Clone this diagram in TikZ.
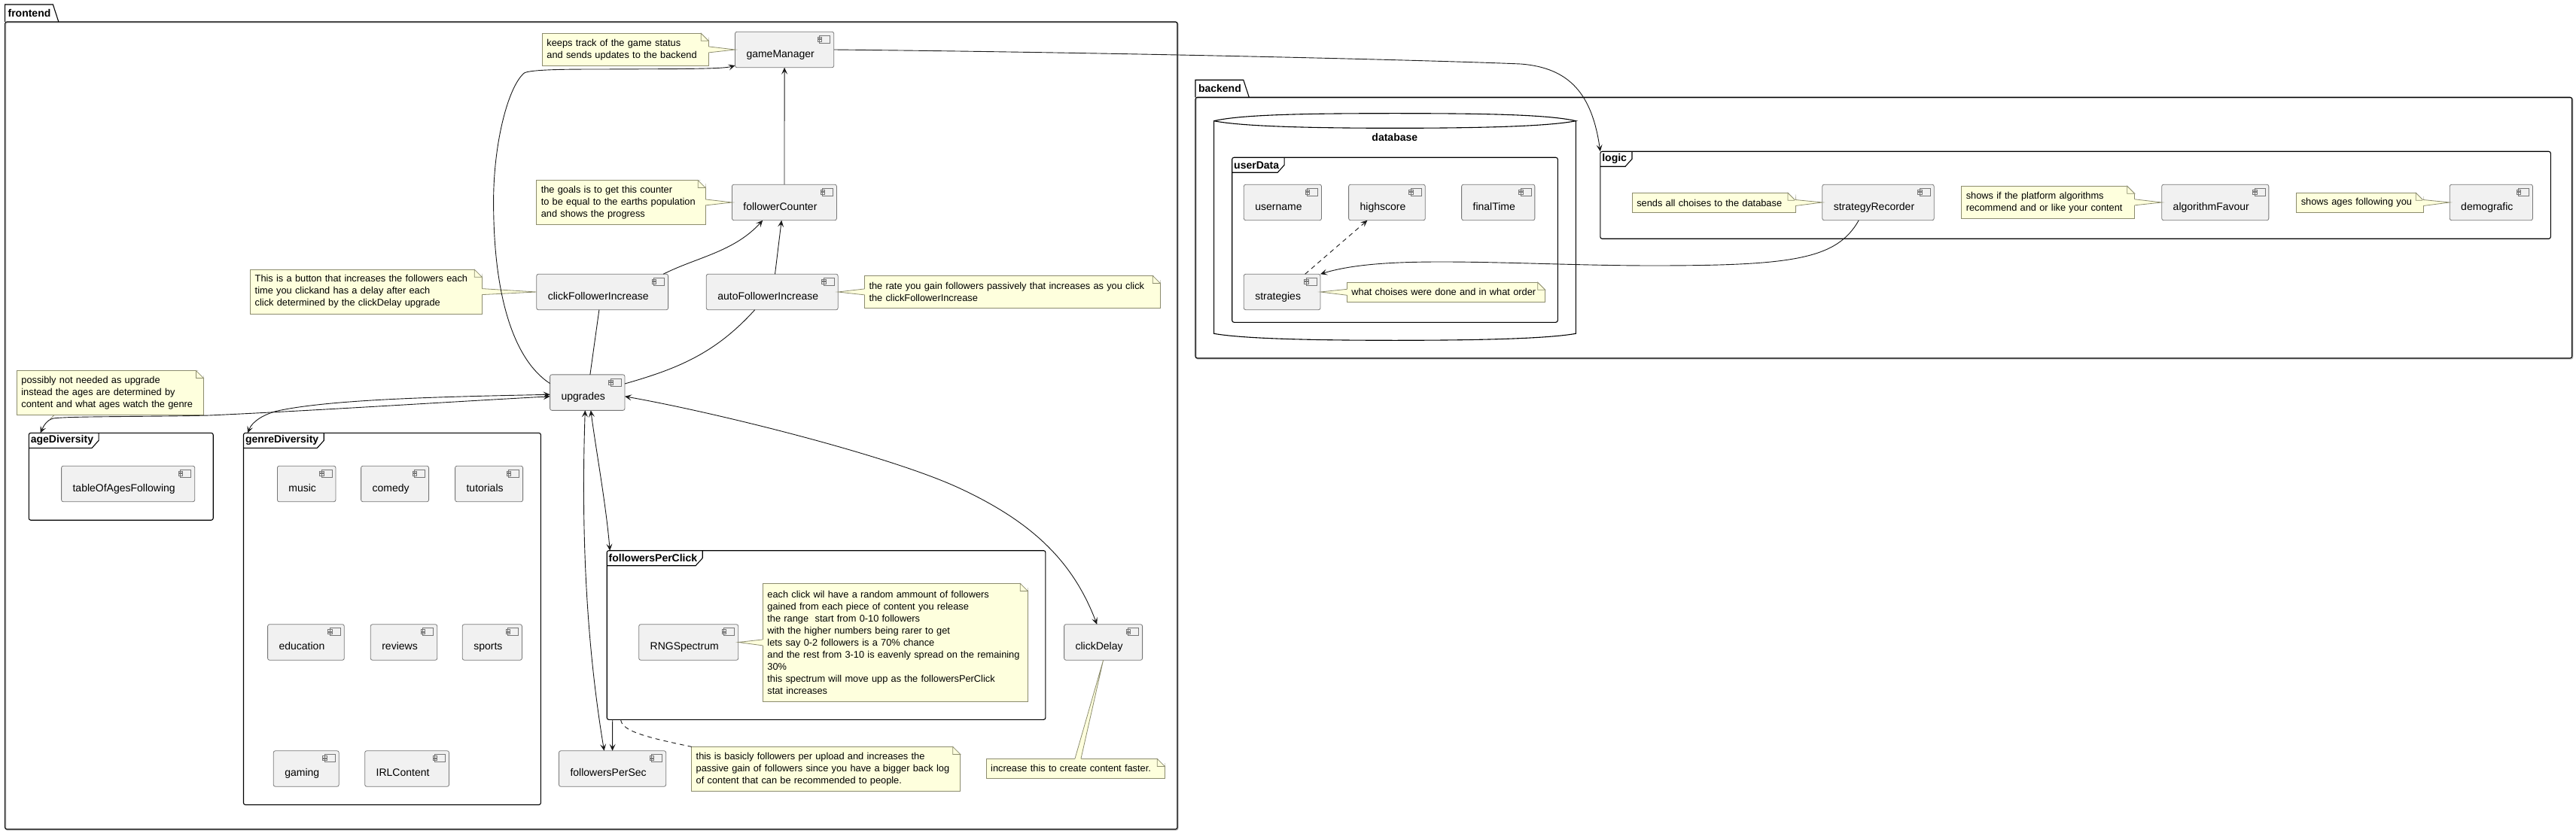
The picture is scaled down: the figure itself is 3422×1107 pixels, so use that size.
\documentclass[tikz,border=0pt]{standalone}
\usepackage{fontspec}
\setmainfont{Liberation Sans}
\usetikzlibrary{arrows.meta}
\definecolor{compfill}{HTML}{F1F1F1}
\definecolor{compline}{HTML}{777777}
\definecolor{notefill}{HTML}{FEFFDD}
\definecolor{noteline}{HTML}{8C8C6E}
\definecolor{linkline}{HTML}{181818}
\tikzset{
  >={Stealth[length=9pt,width=8pt,inset=4pt]},
  link/.style={draw=linkline,line width=.9pt},
  comp/.style={draw=compline,fill=compfill,line width=.8pt,rounded corners=2.5pt,anchor=west,
    inner sep=0pt,outer sep=0pt,text height=34pt,text depth=13.5pt,
    font=\fontsize{14}{16}\selectfont,
    execute at begin node={\hspace*{15pt}},execute at end node={\hspace*{26pt}},
    path picture={
      \draw[compline,sharp corners,line width=.7pt,fill=compfill]
        ([xshift=-19pt,yshift=-5pt]path picture bounding box.north east) rectangle ([xshift=-5pt,yshift=-15pt]path picture bounding box.north east)
        ([xshift=-21.5pt,yshift=-7pt]path picture bounding box.north east) rectangle ([xshift=-16pt,yshift=-9.5pt]path picture bounding box.north east)
        ([xshift=-21.5pt,yshift=-10.5pt]path picture bounding box.north east) rectangle ([xshift=-16pt,yshift=-13pt]path picture bounding box.north east);
    }},
  notebox/.style={draw=noteline,fill=notefill,line width=.8pt,anchor=west,inner xsep=6pt,inner ysep=0pt,
    outer sep=0pt,align=left,font=\fontsize{12.8}{16}\selectfont},
  groupframe/.style={draw=black,line width=1.1pt,rounded corners=2.5pt,anchor=north west,inner sep=0pt,outer sep=0pt},
  folder/.style={groupframe,preaction={draw=black!25,line width=1.6pt,transform canvas={shift={(.9pt,-.9pt)}}}},
  tabtext/.style={anchor=north west,inner sep=0pt,outer sep=0pt,minimum height=20pt,
    font=\fontsize{14}{16}\selectfont\bfseries,
    execute at begin node={\hspace*{2.5pt}},execute at end node={\hspace*{7pt}}},
  foldertext/.style={anchor=south west,inner sep=0pt,outer sep=0pt,minimum height=23pt,
    font=\fontsize{14}{16}\selectfont\bfseries,
    execute at begin node={\hspace*{4pt}},execute at end node={\hspace*{3pt}}},
}
\begin{document}
\begin{tikzpicture}[x=1pt,y=-1pt]
    \useasboundingbox (0,0) rectangle (3422,1107);

    \foreach \n/\x/\y/\w/\h in {frontend/6.6/29/1557.4/1073, backend/1588/129.3/1828.7/346.7} {
        \node[folder,minimum width=\w pt,minimum height=\h pt] (\n) at (\x,\y) {};
        \node[foldertext] (\n Tab) at (\n.north west) {\n};
        \draw[groupframe,sharp corners] (\n.north west) -- (\n Tab.north west) -- (\n Tab.north east) -- ([xshift=7.5pt]\n Tab.south east);
    }
    \foreach \n/\x/\y/\w/\h in {ageDiversity/38.3/575.4/244.9/115.8, genreDiversity/323.5/575.4/394.9/494.1,
        followersPerClick/806.2/731.7/582.7/224.6, userData/1636.7/209.3/432.6/219, logic/2125.8/201.3/1262.5/116} {
        \node[groupframe,minimum width=\w pt,minimum height=\h pt] (\n) at (\x,\y) {};
        \node[tabtext] (\n Tab) at (\n.north west) {\n};
        \draw[groupframe,sharp corners] (\n Tab.north east) -- ([yshift=-10pt]\n Tab.north east) -- ([xshift=-9pt]\n Tab.south east) -- (\n Tab.south west);
    }

    \draw[groupframe,sharp corners] (1612.6,160.7) .. controls (1650,152) and (1740,150.7) .. (1853,150.7) .. controls (1966,150.7) and (2056,152) .. (2093.4,160.7)
        .. controls (2056,168) and (1966,170.3) .. (1853,170.3) .. controls (1740,170.3) and (1650,168) .. (1612.6,160.7)
        -- (1612.6,443.3) .. controls (1650,450) and (1740,452.3) .. (1853,452.3) .. controls (1966,452.3) and (2056,450) .. (2093.4,443.3) -- (2093.4,160.7);
    \node[inner sep=0pt,font=\fontsize{14}{16}\selectfont\bfseries] (database) at (1852.8,182) {database};

    \foreach \n/\x/\y in {gameManager/976.5/66, followerCounter/972.4/269, clickFollowerIncrease/712.8/388,
        autoFollowerIncrease/938.3/388, upgrades/730.6/521.6, tableOfAgesFollowing/81.6/643,
        music/368.4/643, comedy/479.6/643, tutorials/604.6/643, education/355.6/853.5, reviews/492.3/853.5,
        sports/614.3/853.5, gaming/363.3/1021.5, IRLContent/484.7/1021.5, followersPerSec/742.5/1021.5,
        RNGSpectrum/848.7/853.5, clickDelay/1413.6/853.5, username/1652.3/269, highscore/1791.6/269,
        finalTime/1941.6/269, strategies/1652.3/388, strategyRecorder/2420.8/269, algorithmFavour/2871.7/269,
        demografic/3254.2/269} {
        \node[comp] (\n) at (\x,\y) {\n};
    }

    \node[notebox,text width=208.9pt,minimum height=43.2pt] (keepsNote) at (720.4,65.9)
        {keeps track of the game status\\and sends updates to the backend};
    \node[notebox,text width=212.4pt,minimum height=58.6pt] (goalsNote) at (712.8,268.9)
        {the goals is to get this counter\\to be equal to the earths population\\and shows the progress};
    \node[notebox,text width=295.6pt,minimum height=58.9pt] (buttonNote) at (332.7,387.6)
        {This is a button that increases the followers each\\time you clickand has a delay after each\\click determined by the clickDelay upgrade};
    \node[notebox,text width=380.8pt,minimum height=42.9pt] (rateNote) at (1148.5,387.9)
        {the rate you gain followers passively that increases as you click\\the clickFollowerIncrease};
    \node[notebox,text width=236pt,minimum height=58.9pt] (possiblyNote) at (22.4,522)
        {possibly not needed as upgrade\\instead the ages are determined by\\content and what ages watch the genre};
    \node[notebox,text width=339.9pt,minimum height=157pt] (rngNote) at (1013.4,853.9)
        {each click wil have a random ammount of followers\\gained from each piece of content you release\\the range\ \ start from 0-10 followers\\with the higher numbers being rarer to get\\lets say 0-2 followers is a 70\% chance\\and the rest from 3-10 is eavenly spread on the remaining\\30\%\\this spectrum will move upp as the followersPerClick\\stat increases};
    \node[notebox,text width=225.1pt,minimum height=26pt] (delayNote) at (1310.2,1021.4)
        {increase this to create content faster.};
    \node[notebox,text width=345.1pt,minimum height=59pt] (basiclyNote) at (918.7,1021.9)
        {this is basicly followers per upload and increases the\\passive gain of followers since you have a bigger back log\\of content that can be recommended to people.};
    \node[notebox,text width=251.4pt,minimum height=26pt] (orderNote) at (1789.4,388.3)
        {what choises were done and in what order};
    \node[notebox,text width=204.7pt,minimum height=26.4pt] (sendsNote) at (2168.3,269.5)
        {sends all choises to the database};
    \node[notebox,text width=218pt,minimum height=43pt] (platformNote) at (2605.8,268.8)
        {shows if the platform algorithms\\recommend and or like your content};
    \node[notebox,text width=156.4pt,minimum height=26.4pt] (agesNote) at (3050.8,269.5)
        {shows ages following you};

    \foreach \n in {keepsNote,goalsNote,buttonNote,rateNote,possiblyNote,rngNote,delayNote,basiclyNote,orderNote,sendsNote,platformNote,agesNote} {
        \fill[white] ([xshift=-10.5pt]\n.north east) -- ([xshift=1pt,yshift=1pt]\n.north east) -- ([yshift=-10.5pt]\n.north east) -- cycle;
        \draw[noteline,line width=.8pt,fill=notefill] ([xshift=-10pt]\n.north east) -- ([yshift=-10pt]\n.north east) -- ([xshift=-10pt,yshift=-10pt]\n.north east) -- cycle;
    }
    \foreach \n/\c in {keepsNote/gameManager,goalsNote/followerCounter,buttonNote/clickFollowerIncrease,sendsNote/strategyRecorder,platformNote/algorithmFavour,agesNote/demografic} {
        \fill[notefill] ([xshift=-1pt,yshift=4pt]\n.east) -- (\c.west) -- ([xshift=-1pt,yshift=-4pt]\n.east) -- cycle;
        \draw[noteline,line width=.8pt] ([yshift=4pt]\n.east) -- (\c.west) -- ([yshift=-4pt]\n.east);
    }
    \foreach \n/\c in {rateNote/autoFollowerIncrease,rngNote/RNGSpectrum,orderNote/strategies} {
        \fill[notefill] ([xshift=1pt,yshift=4pt]\n.west) -- (\c.east) -- ([xshift=1pt,yshift=-4pt]\n.west) -- cycle;
        \draw[noteline,line width=.8pt] ([yshift=4pt]\n.west) -- (\c.east) -- ([yshift=-4pt]\n.west);
    }
    \fill[notefill] ([xshift=117.7pt,yshift=-1pt]delayNote.north west) -- (clickDelay.south) -- ([xshift=125.7pt,yshift=-1pt]delayNote.north west) -- cycle;
    \draw[noteline,line width=.8pt] ([xshift=117.7pt]delayNote.north west) -- (clickDelay.south) -- ([xshift=125.7pt]delayNote.north west);
    \coordinate (ageTip) at (66.7,557);
    \draw[noteline,line width=.8pt] ([xshift=49.6pt]possiblyNote.south west) -- (ageTip);

    \draw[link,->] (followerCounter) -- (gameManager);
    \draw[link,->] ([xshift=3.8pt]autoFollowerIncrease.north) -- ([xshift=-3.7pt]followerCounter.south);
    \draw[link,->] ([xshift=81pt]clickFollowerIncrease.north) .. controls (925,342) and (975,335) .. ([xshift=-28.7pt]followerCounter.south);
    \draw[link] ([xshift=3.6pt]upgrades.north) -- ([xshift=-4.3pt]clickFollowerIncrease.south);
    \draw[link] ([yshift=11.6pt]upgrades.east) .. controls (900,490) and (950,470) .. ([xshift=-23pt]autoFollowerIncrease.south);
    \draw[link,->] ([yshift=12pt]upgrades.west) .. controls (685,480) and (655.6,400) .. (655.6,268) .. controls (655.6,190) and (675,115) .. (696.4,97)
        .. controls (705,92) and (760,92) .. (800,92) .. controls (900,91.5) and (960,92) .. ([yshift=-21pt]gameManager.west);
    \draw[link,<->] ([yshift=-5.2pt]upgrades.east) .. controls (950,548) and (1180,605) .. (1274,648.5) .. controls (1370,693) and (1425,745) .. ([xshift=-8.4pt]clickDelay.north);
    \draw[link,<->] ([xshift=-3pt]upgrades.south) .. controls (772,700) and (778,850) .. ([xshift=-11pt]followersPerSec.north);
    \draw[link,<->] ([xshift=4.5pt]upgrades.south) .. controls (792,600) and (805,670) .. ([xshift=4pt]followersPerClick.north west);
    \draw[link,->] ([xshift=7.5pt]followersPerClick.south west) -- (followersPerSec.north);
    \draw[link,dash pattern=on 6pt off 5pt] ([xshift=18.4pt]followersPerClick.south west) .. controls (826,972) and (860,980) .. (basiclyNote.north west);
    \draw[link,<->] ([yshift=-5.2pt]upgrades.west) .. controls (580,535) and (430,545) .. (278,552) .. controls (200,554) and (90,553) .. (71,556) .. controls (62,558) and (58,566) .. ([xshift=15.3pt]ageDiversity.north west);
    \draw[link,<->] ([yshift=-2.7pt]upgrades.west) .. controls (600,527) and (440,530) .. (367,546.4) .. controls (350,551) and (335,560) .. ([xshift=5.5pt]genreDiversity.north west);
    \draw[link,->] (gameManager.east) .. controls (1500,70) and (1900,80) .. (2020,85) .. controls (2085,90) and (2115,125) .. (logic.north west);
    \draw[link,->,dash pattern=on 6pt off 5pt] ([xshift=30.5pt]strategies.north) -- ([xshift=-26pt]highscore.south);
    \draw[link,->] ([xshift=-25.8pt]strategyRecorder.south) .. controls (2440,345) and (2380,353) .. (2195,353) .. controls (2100,353) and (2000,348) .. (1915,348) .. controls (1860,348) and (1800,350) .. (strategies.north east);
\end{tikzpicture}
\end{document}
